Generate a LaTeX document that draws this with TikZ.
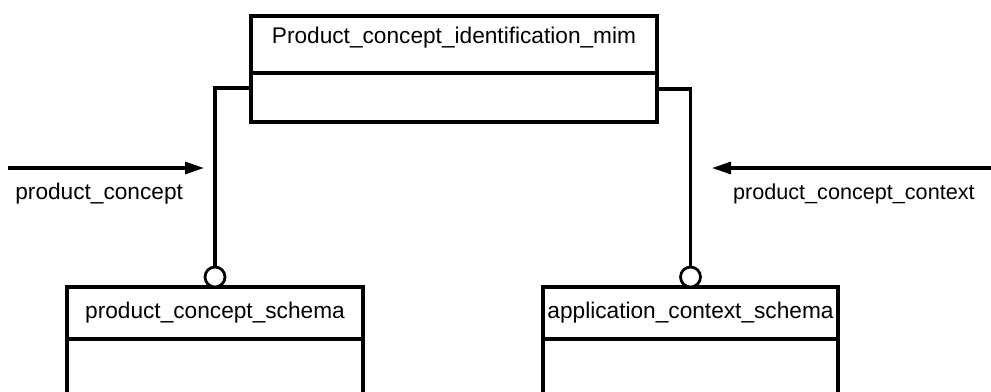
\documentclass[tikz,border=0pt]{standalone}
\usepackage{fontspec}
\setmainfont{Liberation Sans}
\usetikzlibrary{arrows.meta,positioning}

\begin{document}
\begin{tikzpicture}[x=0.2mm,y=-0.2mm,
  font=\fontsize{12.9}{15}\selectfont,
  box/.style={draw,line width=0.62mm,inner sep=0pt,outer sep=0pt,minimum width=#1},
  ring/.style={draw,circle,line width=0.55mm,fill=white,inner sep=0pt,outer sep=0pt,minimum size=4mm},
  wire/.style={line width=0.62mm},
  flow/.style={line width=0.62mm,-{Triangle[length=3.8mm,width=2.4mm]}}]
  \clip (0,0) rectangle (991,391);
  % top schema
  \node[box=81.2mm,minimum height=11.4mm,text height=3.26mm,text depth=3.6mm] (mim) at (454,44.5) {Product\_concept\_identification\_mim};
  \node[box=81.2mm,minimum height=9.8mm,below=0pt of mim] (mimbody) {};
  % used schemas
  \node[box=59.2mm,minimum height=10.4mm] (pcs) at (215,313) {product\_concept\_schema};
  \node[box=59.2mm,minimum height=16mm,below=0pt of pcs] (pcsbody) {};
  \node[box=59mm,minimum height=10.4mm] (acs) at (690.5,313) {application\_context\_schema};
  \node[box=59mm,minimum height=16mm,below=0pt of acs] (acsbody) {};
  % references
  \node[ring,above=0pt of pcs] (pcsring) {};
  \node[ring,above=0pt of acs] (acsring) {};
  \draw[wire] ([yshift=1.9mm]mimbody.west) -| (pcsring);
  \draw[wire] ([yshift=1.7mm]mimbody.east) -| (acsring);
  % interfaced objects
  \coordinate (pcstart) at (8,168);
  \coordinate (pcend) at (204,168);
  \draw[flow] (pcstart) -- (pcend);
  \node[anchor=west,inner sep=0pt] (pclabel) at (15,194) {product\_concept};
  \coordinate (pccstart) at (991,168);
  \coordinate (pccend) at (712,168);
  \draw[flow] (pccstart) -- (pccend);
  \node[anchor=east,inner sep=0pt,font=\fontsize{12.3}{15}\selectfont] (pcclabel) at (975,194) {product\_concept\_context};
\end{tikzpicture}
\end{document}
